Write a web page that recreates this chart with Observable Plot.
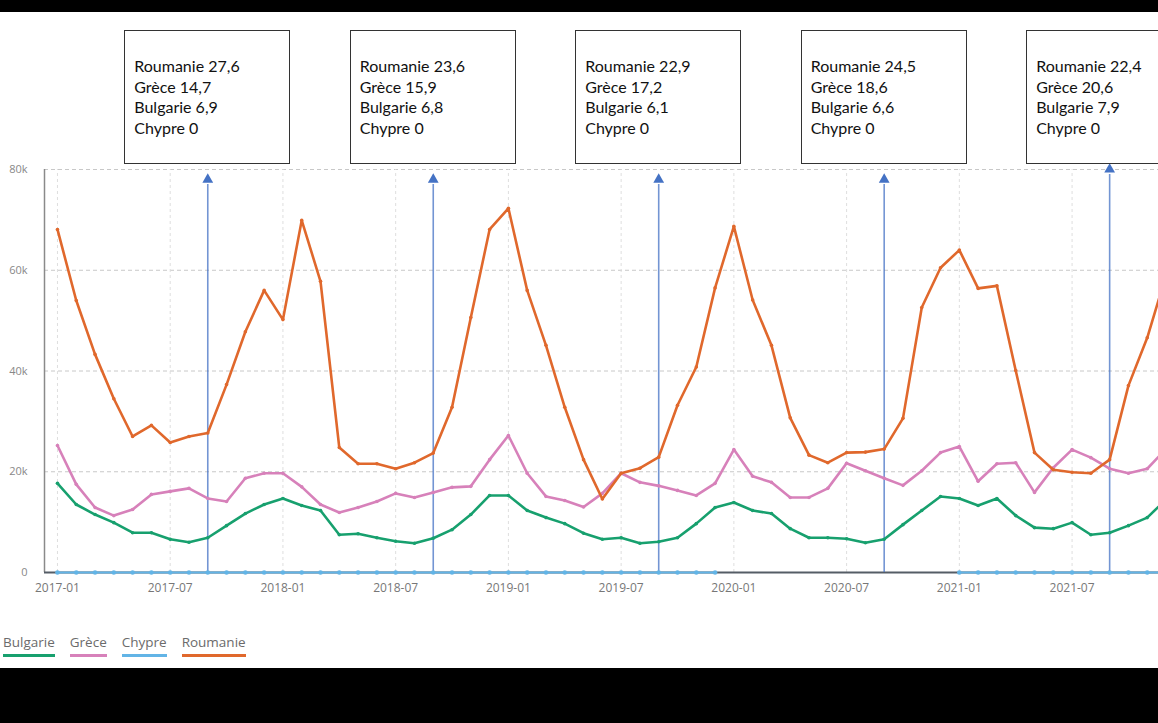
<!DOCTYPE html>
<html>
<head>
<meta charset="utf-8">
<script src="https://cdn.jsdelivr.net/npm/d3@7"></script>
<script src="https://cdn.jsdelivr.net/npm/@observablehq/plot@0.6"></script>
<style>
  html, body { margin: 0; padding: 0; background: #000; overflow: hidden; width: 1158px; height: 723px; }
  #panel { position: absolute; left: 0; top: 12px; width: 1158px; height: 656px; background: #fff; overflow: hidden; }
  #chart { position: absolute; left: 0; top: 0; }
  .box { position: absolute; top: 18px; height: 134px; width: 166px; box-sizing: border-box;
         border: 1.5px solid #333; background: #fff; font-family: Lato, "Open Sans", sans-serif;
         font-size: 16px; line-height: 20.7px; color: #111; padding: 25px 0 0 9px; white-space: nowrap; }
  #legend { position: absolute; left: 3px; top: 622px; font-family: "Open Sans", sans-serif; font-size: 13.5px;
            line-height: 16px; color: #6b6b6b; white-space: nowrap; }
  #legend span { display: inline-block; padding-bottom: 4px; border-bottom: 3px solid; margin-right: 15px; }
</style>
</head>
<body>
<div id="panel">
  <div id="chart"></div>
  <div id="legend"></div>
</div>
<script>
// ---- data (values in thousands), month index 0 = 2017-01 ----
const months = d3.range(60);
const tickIdx = [0, 6, 12, 18, 24, 30, 36, 42, 48, 54];
const tickLabels = ["2017-01","2017-07","2018-01","2018-07","2019-01","2019-07","2020-01","2020-07","2021-01","2021-07"];
const yTicks = [0, 20, 40, 60, 80];
const yTickLabels = ["0", "20k", "40k", "60k", "80k"];

const seriesNames = ["Bulgarie", "Grèce", "Chypre", "Roumanie"];
const seriesColors = ["#17a06e", "#d781ba", "#62b4e6", "#e0682c"];

const bulgarie = [17.7,13.5,11.5,9.9,7.9,7.9,6.6,6.0,6.9,9.3,11.7,13.5,
                  14.7,13.3,12.3,7.5,7.7,6.9,6.2,5.8,6.8,8.5,11.5,15.3,
                  15.3,12.3,10.9,9.7,7.8,6.6,6.9,5.8,6.1,6.9,9.7,12.9,
                  13.9,12.3,11.7,8.7,6.9,6.9,6.7,5.9,6.6,9.5,12.3,15.1,
                  14.7,13.3,14.7,11.3,8.9,8.7,9.9,7.5,7.9,9.3,10.9,14.5];
const grece = [25.2,17.5,12.9,11.3,12.5,15.5,16.1,16.7,14.7,14.1,18.7,19.7,
               19.7,17.0,13.5,11.9,12.9,14.1,15.7,14.9,15.9,16.9,17.1,22.4,
               27.2,19.7,15.1,14.3,13.0,15.7,19.7,17.9,17.2,16.3,15.3,17.7,
               24.4,19.1,17.9,14.9,14.9,16.7,21.7,20.2,18.7,17.3,20.2,23.8,
               25.0,18.1,21.6,21.8,15.9,20.8,24.4,22.8,20.6,19.7,20.6,24.5];
const chypre = [0,0,0,0,0,0,0,0,0,0,0,0,
                0,0,0,0,0,0,0,0,0,0,0,0,
                0,0,0,0,0,0,0,0,0,0,0,0,
                null,null,null,null,null,null,null,null,null,null,null,null,
                0,0,0,0,0,0,0,0,0,0,0,0];
const roumanie = [68.1,54.0,43.3,34.5,27.0,29.2,25.8,27.0,27.7,37.3,47.8,56.0,
                  50.2,69.9,57.8,24.8,21.6,21.6,20.6,21.8,23.7,32.8,50.6,68.1,
                  72.3,56.0,45.1,32.8,22.4,14.6,19.7,20.7,22.9,33.2,40.8,56.5,
                  68.7,54.1,45.1,30.7,23.3,21.8,23.8,23.9,24.5,30.6,52.6,60.5,
                  64.0,56.4,56.9,40.1,23.8,20.4,19.9,19.7,22.4,37.1,46.6,59.0];

// annotations (arrows at Sept. of each year)
const arrowIdx = [8, 20, 32, 44, 56];
const arrowTops = [78, 78, 78, 78, 80];
const annoRoumanie = ["27,6", "23,6", "22,9", "24,5", "22,4"];
const annoGrece = ["14,7", "15,9", "17,2", "18,6", "20,6"];
const annoBulgarie = ["6,9", "6,8", "6,1", "6,6", "7,9"];
const annoChypre = ["0", "0", "0", "0", "0"];

const xDomain = [-0.69, 58.6];

// ---- long table ----
const seriesValues = [bulgarie, grece, chypre, roumanie];
const table = [];
seriesNames.forEach((name, s) => {
  months.forEach(i => table.push({series: name, m: i, v: seriesValues[s][i]}));
});
const color = {domain: seriesNames, range: seriesColors};
const drawOrder = ["Bulgarie", "Grèce", "Roumanie"];

const marks = [
  Plot.ruleY([20, 40, 60, 80], {stroke: "#c8c8c8", strokeDasharray: "4,3", strokeWidth: 1}),
  Plot.ruleX(tickIdx, {y1: 0, y2: 80, stroke: "#dedede", strokeDasharray: "3,3", strokeWidth: 1}),
  Plot.ruleX([xDomain[0]], {y1: 0, y2: 80, stroke: "#8a8a8a", strokeWidth: 1.5}),
  Plot.ruleY([0], {stroke: "#555d66", strokeWidth: 2}),
  Plot.ruleX(arrowIdx, {x: d => d, y1: 0, y2: (d, i) => arrowTops[i] - 1, stroke: "#4472c4", strokeOpacity: 0.75, strokeWidth: 1.6}),
  Plot.dot(arrowIdx, {x: d => d, y: (d, i) => arrowTops[i], symbol: "triangle", r: 4, fill: "#4472c4", stroke: "none"}),
  Plot.axisY(yTicks, {tickFormat: d => yTickLabels[yTicks.indexOf(d)], tickSize: 0, tickPadding: 17, fontSize: 11, color: "#888", label: null}),
  Plot.axisX(tickIdx, {tickFormat: d => tickLabels[tickIdx.indexOf(d)], tickSize: 0, tickPadding: 11, fontSize: 12, color: "#777", label: null}),
];
for (const name of drawOrder) {
  const data = table.filter(d => d.series === name);
  marks.push(Plot.line(data, {x: "m", y: "v", stroke: "series", strokeWidth: 2.6, clip: true}));
  marks.push(Plot.dot(data, {x: "m", y: "v", fill: "series", r: 1.8, clip: true}));
}
{
  const data = table.filter(d => d.series === "Chypre");
  marks.push(Plot.line(data, {x: "m", y: "v", stroke: "series", strokeWidth: 1.8}));
  marks.push(Plot.dot(data.filter(d => d.v != null), {x: "m", y: "v", fill: "series", r: 2.3}));
}

const plot = Plot.plot({
  width: 1158,
  height: 600,
  marginTop: 157,
  marginBottom: 40,
  marginLeft: 44,
  marginRight: 0,
  style: {fontFamily: "'Open Sans', sans-serif", fontSize: "12px", background: "transparent", overflow: "visible"},
  x: {type: "linear", domain: xDomain, axis: null, label: null},
  y: {domain: [0, 80], axis: null, label: null},
  color,
  marks
});
document.getElementById("chart").appendChild(plot);

// annotation boxes positioned with the chart's x scale
const xs = plot.scale("x");
const panel = document.getElementById("panel");
arrowIdx.forEach((m, k) => {
  const box = document.createElement("div");
  box.className = "box";
  box.style.left = (xs.apply(m) - 83) + "px";
  box.innerHTML = `Roumanie ${annoRoumanie[k]}<br>Grèce ${annoGrece[k]}<br>Bulgarie ${annoBulgarie[k]}<br>Chypre ${annoChypre[k]}`;
  panel.appendChild(box);
});

// legend
const legend = document.getElementById("legend");
seriesNames.forEach((name, s) => {
  const sp = document.createElement("span");
  sp.textContent = name;
  sp.style.borderBottomColor = seriesColors[s];
  legend.appendChild(sp);
});
</script>
</body>
</html>
